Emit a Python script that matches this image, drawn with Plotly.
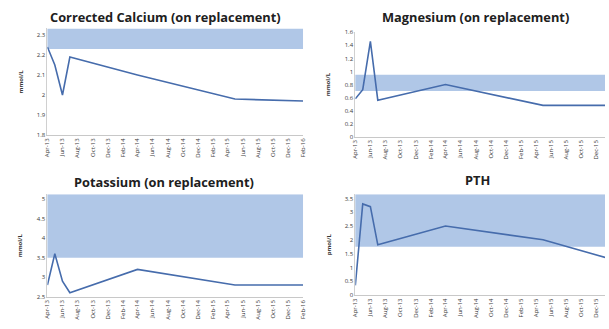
import plotly.graph_objects as go

dates = ["2013-04-01", "2013-05-01", "2013-06-01", "2013-07-01",
         "2014-04-01", "2015-05-01", "2016-02-01"]

calcium = [2.24, 2.15, 2.00, 2.19, 2.10, 1.98, 1.97]
magnesium = [0.58, 0.72, 1.46, 0.56, 0.80, 0.48, 0.48]
potassium = [2.80, 3.60, 2.90, 2.60, 3.20, 2.80, 2.80]
pth = [0.35, 3.30, 3.20, 1.82, 2.50, 2.00, 1.30]

titles = ["Corrected Calcium (on replacement)", "Magnesium (on replacement)",
          "Potassium (on replacement)", "PTH"]
units = ["mmol/L", "mmol/L", "mmol/L", "pmol/L"]

# reference (normal) ranges
ref_calcium = [2.23, 2.60]
ref_magnesium = [0.70, 0.95]
ref_potassium = [3.50, 5.30]
ref_pth = [1.75, 6.90]

tick_vals = ["2013-04-01", "2013-06-01", "2013-08-01", "2013-10-01", "2013-12-01",
             "2014-02-01", "2014-04-01", "2014-06-01", "2014-08-01", "2014-10-01",
             "2014-12-01", "2015-02-01", "2015-04-01", "2015-06-01", "2015-08-01",
             "2015-10-01", "2015-12-01", "2016-02-01"]
tick_text = ["Apr-13", "Jun-13", "Aug-13", "Oct-13", "Dec-13", "Feb-14", "Apr-14",
             "Jun-14", "Aug-14", "Oct-14", "Dec-14", "Feb-15", "Apr-15", "Jun-15",
             "Aug-15", "Oct-15", "Dec-15", "Feb-16"]

W, H = 609, 329
LINE = "rgb(70,108,172)"
BAND = "rgb(176,199,231)"
TXT = "#3a3a3a"

panels = [
    dict(y=calcium, ref=ref_calcium, yr=[1.8, 2.333], dt=0.1, xp=(44, 303), yp=(25, 134.3),
         xend="2016-02-01", tpos=(164, 13)),
    dict(y=magnesium, ref=ref_magnesium, yr=[0, 1.6], dt=0.2, xp=(356, 609), yp=(29, 136),
         xend="2016-01-07", tpos=(478, 13)),
    dict(y=potassium, ref=ref_potassium, yr=[2.5, 5.125], dt=0.5, xp=(44, 303), yp=(195, 300),
         xend="2016-02-01", tpos=(162, 182)),
    dict(y=pth, ref=ref_pth, yr=[0, 3.65], dt=0.5, xp=(356, 609), yp=(195, 298.3),
         xend="2016-01-07", tpos=(480, 180)),
]

fig = go.Figure()
annotations = []
shapes = []
for i, p in enumerate(panels):
    n = "" if i == 0 else str(i + 1)
    xa, ya = "x" + n, "y" + n
    fig.add_trace(go.Scatter(x=dates, y=p["y"], mode="lines", xaxis=xa, yaxis=ya,
                             line=dict(color=LINE, width=1.6), showlegend=False))
    xd = [p["xp"][0] / W, p["xp"][1] / W]
    yd = [1 - p["yp"][1] / H, 1 - p["yp"][0] / H]
    fig.update_layout(**{
        "xaxis" + n: dict(domain=xd, anchor=ya, type="date",
                          range=["2013-04-01", p["xend"]],
                          tickvals=tick_vals, ticktext=tick_text, tickangle=-90,
                          tickfont=dict(size=6, color=TXT, family="Open Sans"),
                          showline=True, linecolor="#c8c8c8", linewidth=1,
                          showgrid=False, zeroline=False, ticks="", ticklen=0),
        "yaxis" + n: dict(domain=yd, anchor=xa, range=p["yr"], dtick=p["dt"],
                          tick0=0, tickfont=dict(size=6, color=TXT, family="Open Sans"),
                          showline=True, linecolor="#d0d0d0", linewidth=1,
                          showgrid=False, zeroline=False, ticks=""),
    })
    lo, hi = p["ref"]
    shapes.append(dict(type="rect", xref=xa + " domain", yref=ya, x0=0, x1=1,
                       y0=max(lo, p["yr"][0]), y1=min(hi, p["yr"][1]),
                       fillcolor=BAND, line=dict(width=0), layer="below"))
    annotations.append(dict(text="<b>" + titles[i] + "</b>", xref="paper", yref="paper",
                            x=p["tpos"][0] / W, y=1 - p["tpos"][1] / H, showarrow=False,
                            xanchor="center", yanchor="middle",
                            font=dict(size=12.8, color="#202020", family="Open Sans")))
    annotations.append(dict(text="<b>" + units[i] + "</b>", xref="paper", yref="paper",
                            x=(p["xp"][0] - 27) / W, y=1 - (p["yp"][0] + p["yp"][1]) / 2 / H,
                            showarrow=False, textangle=-90, xanchor="center", yanchor="middle",
                            font=dict(size=6, color=TXT, family="Open Sans")))

fig.update_layout(width=W, height=H, margin=dict(l=0, r=0, t=0, b=0),
                  paper_bgcolor="white", plot_bgcolor="white",
                  shapes=shapes, annotations=annotations)
fig.write_html("out.html")
